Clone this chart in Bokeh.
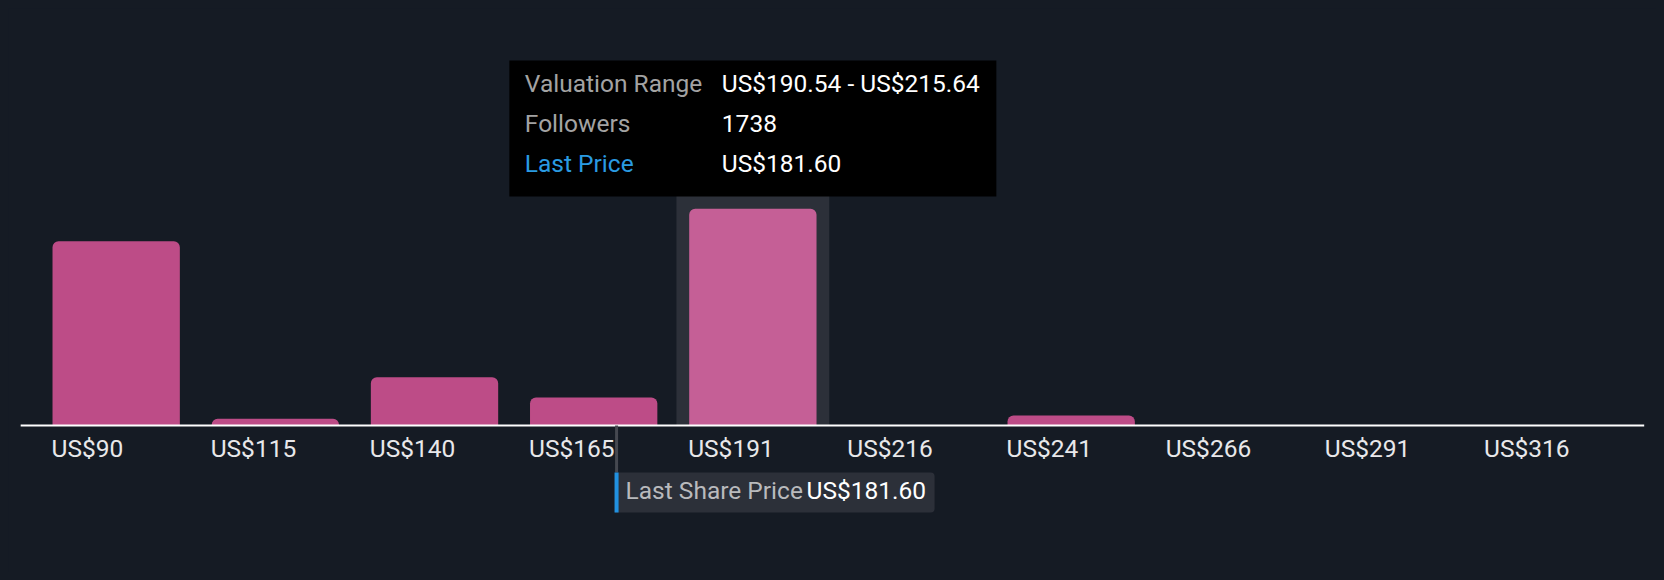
from bokeh.plotting import figure
from bokeh.models import Range1d
from bokeh.core.properties import value
from bokeh.embed import file_html
from bokeh.resources import INLINE

# ---- data ----
bin_edges = [90.14, 115.24, 140.34, 165.44, 190.54, 215.64, 240.74, 265.84, 290.94, 316.04, 341.14]
tick_labels = ["US$90", "US$115", "US$140", "US$165", "US$191", "US$216", "US$241", "US$266", "US$291", "US$316"]
followers = [1478, 54, 387, 225, 1738, 0, 80, 0, 0, 0]
highlight_index = 4
last_price = 181.60
tooltip_rows = ["Valuation Range", "Followers", "Last Price"]
tooltip_values = ["US$190.54 - US$215.64", "1738", "US$181.60"]

# ---- layout / style ----
W, H = 1648, 564
X0, X1 = 85.71, 345.59
Y0, Y1 = -1179.0, 3345.0
xpp = (X1 - X0) / W
ypp = (Y1 - Y0) / H
FONT = value("Roboto")
FS = "24.5px"
TSHIFT = -9  # text baseline correction (px)
BG = "#151b24"
BAR = "#bd4c87"
BAR_HI = "#c55f96"
BAND = "#2c3039"


def ydata(page_y):
    return Y1 - (page_y - 8) * ypp


def dx(px):
    return px * xpp


p = figure(width=W, height=H, output_backend="svg", toolbar_location=None,
           x_range=Range1d(X0, X1), y_range=Range1d(Y0, Y1))
p.min_border = 0
p.min_border_left = p.min_border_right = p.min_border_top = p.min_border_bottom = 0
p.axis.visible = False
p.grid.visible = False
p.outline_line_color = None
p.background_fill_color = BG
p.border_fill_color = BG

w = bin_edges[1] - bin_edges[0]
lefts = [e + 0.1 * w for e in bin_edges[:-1]]
rights = [e + 0.9 * w for e in bin_edges[:-1]]
centers = [e + 0.5 * w for e in bin_edges[:-1]]

# highlight band
hl = highlight_index
p.quad(left=bin_edges[hl] + 0.02 * w, right=bin_edges[hl + 1] - 0.02 * w,
       bottom=0, top=ydata(130), fill_color=BAND, line_color=None)

# bars
colors = [BAR_HI if i == hl else BAR for i in range(len(followers))]
p.quad(left=lefts, right=rights, bottom=0, top=followers,
       fill_color=colors, line_color=None, border_radius=(6, 6, 0, 0))

# axis line
p.segment(x0=bin_edges[0] - 0.1 * w, x1=bin_edges[-1] + 0.1 * w, y0=0, y1=0,
          line_color="#ffffff", line_width=2)

# tick labels
p.text(x=lefts, y=[ydata(457 + TSHIFT)] * len(lefts), text=tick_labels,
       text_font=FONT, text_font_size=FS, text_color="#e8e8ea",
       text_align="left", text_baseline="alphabetic", x_offset=-1)

# last price marker
p.segment(x0=last_price, x1=last_price, y0=0, y1=ydata(472),
          line_color="#454850", line_width=3)
p.quad(left=last_price - dx(2), right=last_price - dx(2) + dx(320),
       bottom=ydata(512), top=ydata(472), fill_color="#2c3039", line_color=None,
       border_radius=(0, 4, 4, 0))
p.quad(left=last_price - dx(2), right=last_price + dx(2),
       bottom=ydata(512), top=ydata(472), fill_color="#2191e0", line_color=None)
p.text(x=[last_price], y=[ydata(499 + TSHIFT)], text=["Last Share Price"], x_offset=9,
       text_font=FONT, text_font_size=FS, text_color="#b9babd",
       text_align="left", text_baseline="alphabetic")
p.text(x=[last_price], y=[ydata(499 + TSHIFT)], text=["US$%.2f" % last_price], x_offset=190,
       text_font=FONT, text_font_size=FS, text_color="#ffffff",
       text_align="left", text_baseline="alphabetic")

# tooltip
cx = centers[hl]
p.rect(x=cx, y=ydata(128), width=487, height=136, width_units="screen",
       height_units="screen", fill_color="#000000", line_color=None)
row_y = [ydata(92 + TSHIFT), ydata(132 + TSHIFT), ydata(172 + TSHIFT)]
p.text(x=[cx] * 3, y=row_y, text=tooltip_rows, x_offset=-228,
       text_font=FONT, text_font_size=FS,
       text_color=["#a3a3a3", "#a3a3a3", "#2a9be2"],
       text_align="left", text_baseline="alphabetic")
p.text(x=[cx] * 3, y=row_y, text=tooltip_values, x_offset=-31,
       text_font=FONT, text_font_size=FS, text_color="#ffffff",
       text_align="left", text_baseline="alphabetic")

html = file_html(p, INLINE)
html = html.replace("</head>", "<style>body{background:%s;margin:8px;}</style></head>" % BG, 1)
open("out.html", "w").write(html)
